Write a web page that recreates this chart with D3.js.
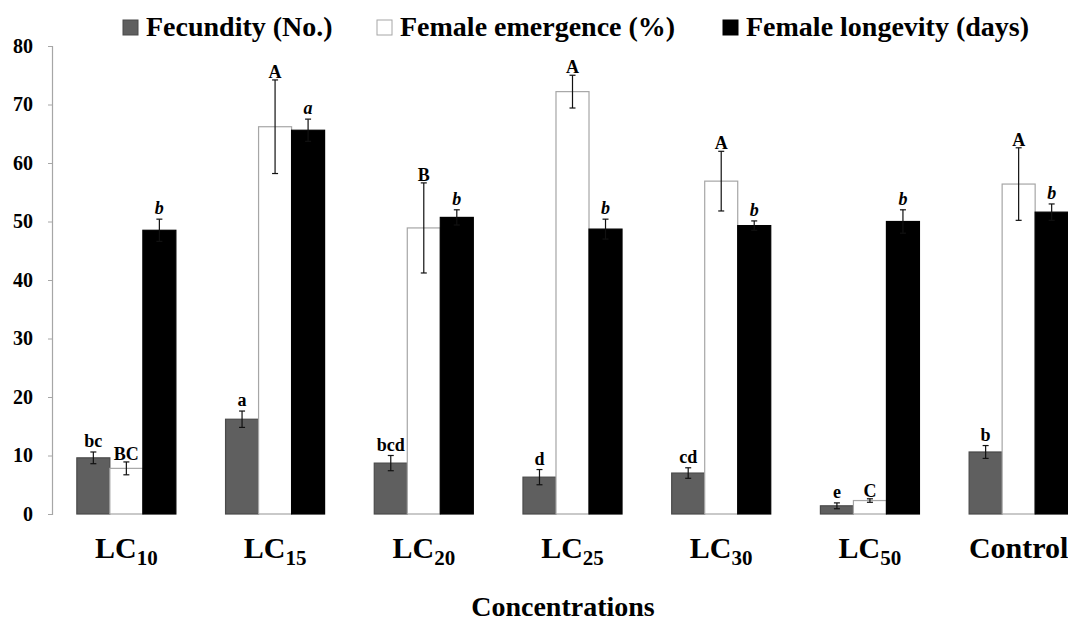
<!DOCTYPE html>
<html>
<head>
<meta charset="utf-8">
<script src="https://cdn.jsdelivr.net/npm/d3@7"></script>
<style>
  html, body { margin: 0; padding: 0; background: #fff; }
  svg { display: block; font-family: "Liberation Serif", "Times New Roman", serif; font-weight: bold; }
</style>
</head>
<body>
<svg id="chart" width="1068" height="621"></svg>
<script>
// values
const categories = ["LC10", "LC15", "LC20", "LC25", "LC30", "LC50", "Control"];
const seriesNames = ["Fecundity (No.)", "Female emergence (%)", "Female longevity (days)"];

const fecundity = [9.6, 16.2, 8.7, 6.3, 7.0, 1.4, 10.6];
const fecundityErr = [1.0, 1.4, 1.3, 1.3, 0.9, 0.5, 1.1];
const fecundityLetters = ["bc", "a", "bcd", "d", "cd", "e", "b"];

const emergence = [7.8, 66.2, 48.9, 72.2, 56.9, 2.3, 56.4];
const emergenceErr = [1.1, 8.0, 7.7, 2.8, 5.1, 0.3, 6.2];
const emergenceLetters = ["BC", "A", "B", "A", "A", "C", "A"];

const longevity = [48.5, 65.6, 50.7, 48.7, 49.3, 50.0, 51.6];
const longevityErr = [1.9, 1.9, 1.3, 1.7, 0.8, 2.0, 1.4];
const longevityLetters = ["b", "a", "b", "b", "b", "b", "b"];

const yTicks = [0, 10, 20, 30, 40, 50, 60, 70, 80];

const series = [
  { name: seriesNames[0], values: fecundity, err: fecundityErr, letters: fecundityLetters, fill: "#5f5f5f", stroke: "#4a4a4a", italic: false, gap: 5 },
  { name: seriesNames[1], values: emergence, err: emergenceErr, letters: emergenceLetters, fill: "#ffffff", stroke: "#a6a6a6", italic: false, gap: 2 },
  { name: seriesNames[2], values: longevity, err: longevityErr, letters: longevityLetters, fill: "#000000", stroke: "#000000", italic: true, gap: 5 },
];

const svg = d3.select("#chart");
const margin = { left: 52, top: 46, bottom: 514, right: 1093 };

const x0 = d3.scaleBand().domain(categories).range([margin.left, margin.right]).paddingInner(0.334).paddingOuter(0.167);
const x1 = d3.scaleBand().domain(seriesNames).range([0, x0.bandwidth()]);
const y = d3.scaleLinear().domain([0, 80]).range([margin.bottom, margin.top]);

// y axis
const yAxis = svg.append("g").attr("transform", `translate(${margin.left},0)`)
  .call(d3.axisLeft(y).tickValues(yTicks).tickSize(4).tickPadding(15));
yAxis.select(".domain").attr("stroke", "#a6a6a6").attr("stroke-width", 1.2);
yAxis.selectAll(".tick line").attr("stroke", "#a6a6a6");
yAxis.selectAll(".tick text")
  .attr("fill", "#000")
  .style("font-size", "20px")
  .style("font-family", "'Liberation Serif', 'Times New Roman', serif")
  .style("font-weight", "bold");

// bars
series.forEach((s) => {
  const g = svg.append("g");
  g.selectAll("rect")
    .data(categories)
    .enter()
    .append("rect")
    .attr("x", (c) => x0(c) + x1(s.name))
    .attr("y", (c, i) => y(s.values[i]))
    .attr("width", x1.bandwidth())
    .attr("height", (c, i) => y(0) - y(s.values[i]))
    .attr("fill", s.fill)
    .attr("stroke", s.stroke)
    .attr("stroke-width", 1.2);
});

// error bars and letters
series.forEach((s) => {
  const g = svg.append("g");
  categories.forEach((c, i) => {
    const cx = x0(c) + x1(s.name) + x1.bandwidth() / 2;
    const hi = y(s.values[i] + s.err[i]);
    const lo = y(s.values[i] - s.err[i]);
    g.append("line").attr("x1", cx).attr("x2", cx).attr("y1", hi).attr("y2", lo).attr("stroke", "#111").attr("stroke-width", 1.2);
    g.append("line").attr("x1", cx - 3).attr("x2", cx + 3).attr("y1", hi).attr("y2", hi).attr("stroke", "#111").attr("stroke-width", 1.2);
    g.append("line").attr("x1", cx - 3).attr("x2", cx + 3).attr("y1", lo).attr("y2", lo).attr("stroke", "#111").attr("stroke-width", 1.2);
    g.append("text")
      .attr("x", cx)
      .attr("y", hi - s.gap)
      .attr("text-anchor", "middle")
      .style("font-size", "18px")
      .style("font-style", s.italic ? "italic" : "normal")
      .text(s.letters[i]);
  });
});

// category labels with subscripts
categories.forEach((c) => {
  const cx = x0(c) + x0.bandwidth() / 2;
  const t = svg.append("text").attr("x", cx).attr("y", 558).attr("text-anchor", "middle").style("font-size", "30px");
  const m = c.match(/^LC(\d+)$/);
  if (m) {
    t.append("tspan").text("LC");
    t.append("tspan").attr("dy", 7).style("font-size", "21px").text(m[1]);
  } else {
    t.text(c);
  }
});

svg.append("text")
  .attr("x", 563)
  .attr("y", 616)
  .attr("text-anchor", "middle")
  .style("font-size", "28px")
  .text("Concentrations");

// legend
const legendX = [123, 377, 723];
series.forEach((s, i) => {
  const g = svg.append("g").attr("transform", `translate(${legendX[i]},20)`);
  g.append("rect").attr("width", 15).attr("height", 15).attr("fill", s.fill).attr("stroke", s.stroke).attr("stroke-width", 1);
  g.append("text").attr("x", 23).attr("y", 16).style("font-size", "28px").text(s.name);
});
</script>
</body>
</html>
